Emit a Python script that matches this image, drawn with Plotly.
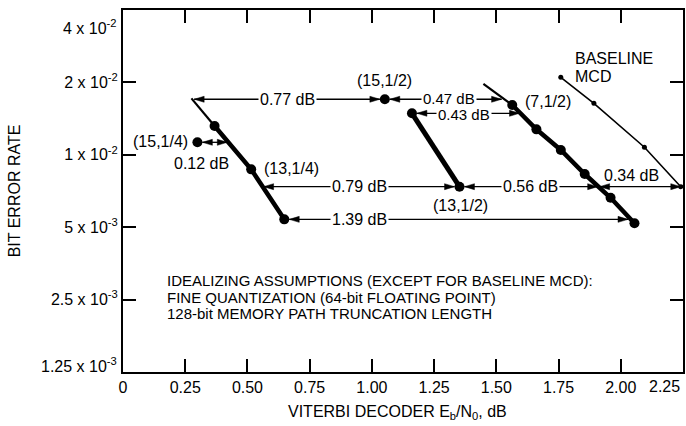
import numpy as np
import plotly.graph_objects as go

# ---------------- data ----------------
# (13,1/4) curve: thin extrapolated head + measured points
c13q_x = [0.275, 0.368, 0.515, 0.648]
c13q_y = [0.01717, 0.01318, 0.0087, 0.00539]
# (15,1/4) single point
p15q_x = [0.299]
p15q_y = [0.01127]
# (13,1/2) curve
c13h_x = [1.161, 1.352]
c13h_y = [0.01488, 0.00737]
# (15,1/2) single point
p15h_x = [1.052]
p15h_y = [0.01702]
# (7,1/2) curve
c7h_x = [1.448, 1.564, 1.661, 1.759, 1.855, 1.959, 2.055]
c7h_y = [0.0197, 0.01611, 0.01276, 0.01047, 0.00832, 0.00663, 0.00519]
# Baseline MCD
mcd_x = [1.759, 1.892, 2.095, 2.241]
mcd_y = [0.021, 0.01637, 0.01075, 0.00737]

# dB gap arrows: label, from x, to x, at BER
gap_labels = ["0.77 dB", "0.47 dB", "0.43 dB", "0.12 dB", "0.79 dB", "0.56 dB", "0.34 dB", "1.39 dB"]
gap_x0 = [1.052, 1.052, 1.161, 0.299, 0.561, 1.352, 1.911, 0.648]
gap_x1 = [0.282, 1.525, 1.597, 0.423, 1.352, 1.911, 2.245, 2.033]
gap_y = [0.01702, 0.01702, 0.01488, 0.01127, 0.00737, 0.00737, 0.00737, 0.00539]

x_tickvals = [0, 0.25, 0.5, 0.75, 1.0, 1.25, 1.5, 1.75, 2.0]
x_ticktext = ["0", "0.25", "0.50", "0.75", "1.00", "1.25", "1.50", "1.75", "2.00"]
y_tickvals = [0.02, 0.01, 0.005, 0.0025]
y_ticktext = ["2 x 10<sup>-2</sup>", "1 x 10<sup>-2</sup>", "5 x 10<sup>-3</sup>", "2.5 x 10<sup>-3</sup>"]

notes = ["IDEALIZING ASSUMPTIONS (EXCEPT FOR BASELINE MCD):",
         "FINE QUANTIZATION (64-bit FLOATING POINT)",
         "128-bit MEMORY PATH TRUNCATION LENGTH"]

FONT = "Liberation Sans, Arial, Helvetica, sans-serif"
L = np.log10

XR = [0, 2.25]
YR = [L(0.00125), L(0.04)]
W, H = 686, 426
M = dict(l=123, r=1, t=10, b=54)
PX_X = (W - M["l"] - M["r"]) / (XR[1] - XR[0])      # px per x unit
PX_Y = (H - M["t"] - M["b"]) / (YR[1] - YR[0])      # px per log10 unit

fig = go.Figure()

def line(x, y, w):
    fig.add_trace(go.Scatter(x=x, y=y, mode="lines",
                             line=dict(color="black", width=w),
                             showlegend=False, hoverinfo="skip"))

def points(x, y, ms):
    fig.add_trace(go.Scatter(x=x, y=y, mode="markers",
                             marker=dict(size=ms, color="black", line=dict(width=0)),
                             showlegend=False, hoverinfo="skip"))

# (13,1/4)
line(c13q_x[:2], c13q_y[:2], 2.2)
line(c13q_x[1:], c13q_y[1:], 4.5)
points(c13q_x[1:], c13q_y[1:], 10)
points(p15q_x, p15q_y, 10)
# (13,1/2)
line(c13h_x, c13h_y, 5)
points(c13h_x, c13h_y, 10)
points(p15h_x, p15h_y, 10)
# (7,1/2)
line(c7h_x[:2], c7h_y[:2], 2.2)
line(c7h_x[1:], c7h_y[1:], 4.5)
points(c7h_x[1:], c7h_y[1:], 10)
# Baseline MCD
line(mcd_x, mcd_y, 1.6)
points(mcd_x, mcd_y, 5)

# ---------------- double-headed gap arrows ----------------
stand0 = [5, 5, 5, 5, 1, 5, 1, 5]   # px gap at the "from" end
stand1 = [1, 1, 1, 1, 5, 1, 1, 1]   # px gap at the "to" end
HEAD_LEN, HEAD_HW = 10, 3.0
hx, hy = [], []
for i in range(len(gap_labels)):
    d = 1 if gap_x1[i] > gap_x0[i] else -1
    xa = gap_x0[i] + d * stand0[i] / PX_X
    xb = gap_x1[i] - d * stand1[i] / PX_X
    ly = L(gap_y[i])
    line([xa, xb], [gap_y[i], gap_y[i]], 1.3)
    for tip, dirn in ((xa, -d), (xb, d)):
        base = tip - dirn * HEAD_LEN / PX_X
        up = 10 ** (ly + HEAD_HW / PX_Y)
        dn = 10 ** (ly - HEAD_HW / PX_Y)
        hx += [tip, base, base, tip, None]
        hy += [gap_y[i], up, dn, gap_y[i], None]
fig.add_trace(go.Scatter(x=hx, y=hy, mode="lines", fill="toself", fillcolor="black",
                         line=dict(color="black", width=0.5),
                         showlegend=False, hoverinfo="skip"))

annotations = []

def txt(s, x, y, xanchor="center", bg=None, size=16, yshift=0):
    d = dict(text=s, x=x, y=L(y), xref="x", yref="y", showarrow=False,
             xanchor=xanchor, yanchor="middle", yshift=yshift,
             font=dict(family=FONT, size=size, color="black"))
    if bg:
        d.update(bgcolor=bg, borderpad=1)
    annotations.append(d)

# labels sitting on the arrows
txt(gap_labels[0], 0.66, gap_y[0], bg="white")
txt(gap_labels[1], 1.308, gap_y[1], bg="white", size=15, yshift=1)
txt(gap_labels[2], 1.372, gap_y[2], bg="white", size=15, yshift=-1)
txt(gap_labels[3], 0.316, 0.00924)
txt(gap_labels[4], 0.952, gap_y[4], bg="white")
txt(gap_labels[5], 1.636, gap_y[5], bg="white")
txt(gap_labels[6], 2.044, 0.00824)
txt(gap_labels[7], 0.952, gap_y[7], bg="white")

# curve labels
txt("(15,1/4)", 0.268, 0.01135, xanchor="right")
txt("(13,1/4)", 0.56, 0.00881, xanchor="left")
txt("(15,1/2)", 1.052, 0.0203)
txt("(13,1/2)", 1.356, 0.00618)
txt("(7,1/2)", 1.608, 0.01662, xanchor="left")
txt("BASELINE", 1.808, 0.02526, xanchor="left")
txt("MCD", 1.808, 0.02107, xanchor="left")

# notes
for s, yv in zip(notes, [0.003008, 0.002563, 0.002184]):
    txt(s, 0.168, yv, xanchor="left", size=15)

# corner tick labels
annotations.append(dict(text="4 x 10<sup>-2</sup>", xref="paper", yref="paper",
                        x=0, y=1, xanchor="right", yanchor="middle", xshift=-4, yshift=-17,
                        showarrow=False, font=dict(family=FONT, size=16, color="black")))
annotations.append(dict(text="1.25 x 10<sup>-3</sup>", xref="paper", yref="paper",
                        x=0, y=0, xanchor="right", yanchor="middle", xshift=-4, yshift=7,
                        showarrow=False, font=dict(family=FONT, size=16, color="black")))
annotations.append(dict(text="2.25", xref="paper", yref="paper",
                        x=1, y=0, xanchor="right", yanchor="middle", xshift=-1, yshift=-14,
                        showarrow=False, font=dict(family=FONT, size=16, color="black")))
# x axis title
annotations.append(dict(text="VITERBI DECODER E<sub>b</sub>/N<sub>0</sub>, dB",
                        xref="paper", yref="paper", x=0.49, y=0, xanchor="center",
                        yanchor="middle", yshift=-40, showarrow=False,
                        font=dict(family=FONT, size=16, color="black")))

fig.update_layout(
    width=W, height=H, margin=M,
    paper_bgcolor="white", plot_bgcolor="white",
    font=dict(family=FONT, size=16, color="black"),
    annotations=annotations,
    xaxis=dict(range=XR, tickvals=x_tickvals, ticktext=x_ticktext,
               ticks="inside", ticklen=13, tickwidth=1.5, tickcolor="black",
               showline=True, linewidth=2, linecolor="black", mirror="ticks",
               showgrid=False, zeroline=False,
               tickfont=dict(family=FONT, size=16, color="black")),
    yaxis=dict(type="log", range=YR,
               tickvals=y_tickvals, ticktext=y_ticktext,
               ticks="inside", ticklen=13, tickwidth=1.5, tickcolor="black",
               showline=True, linewidth=2, linecolor="black", mirror="ticks",
               showgrid=False, zeroline=False,
               title=dict(text="BIT ERROR RATE", standoff=26,
                          font=dict(family=FONT, size=16, color="black")),
               tickfont=dict(family=FONT, size=16, color="black")),
)

fig.write_html("out.html")
